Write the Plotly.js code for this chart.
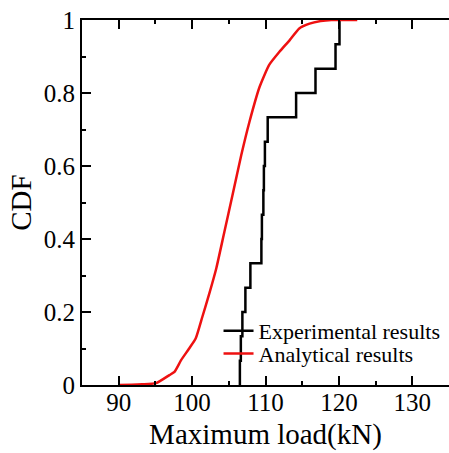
<!DOCTYPE html>
<html>
<head>
<meta charset="utf-8">
<script src="https://cdn.plot.ly/plotly-3.0.1.min.js"></script>
<style>
html,body{margin:0;padding:0;background:#fff;}
#chart{width:449px;height:453px;}
</style>
</head>
<body>
<div id="chart"></div>
<script>
// Experimental results: sorted maximum loads (kN), empirical CDF steps of 1/15
var expLoads = [106.51, 106.64, 106.85, 107.26, 107.94, 109.44, 109.51, 109.71, 109.78, 109.92, 110.30, 114.17, 116.81, 119.54, 120.08];
var expCdf = [1/15, 2/15, 3/15, 4/15, 5/15, 6/15, 7/15, 8/15, 9/15, 10/15, 11/15, 12/15, 13/15, 14/15, 1];

// Analytical results: CDF curve
var anaLoads = [90, 93.2, 95.1, 96.9, 97.6, 98.5, 99.6, 100.5, 101.4, 102.35, 103.3, 104.4, 105.5, 106.7, 107.8, 109.2, 110.5, 111.9, 113.3, 114.6, 116.0, 117.5, 119.0, 122.5];
var anaCdf   = [0, 0.002, 0.005, 0.027, 0.036, 0.068, 0.10, 0.128, 0.187, 0.251, 0.32, 0.42, 0.52, 0.63, 0.72, 0.817, 0.877, 0.913, 0.945, 0.977, 0.99, 0.997, 1.0, 1.0];

var xTicks = [90, 100, 110, 120, 130];
var yTicks = [0, 0.2, 0.4, 0.6, 0.8, 1];
var yTickText = ['0', '0.2', '0.4', '0.6', '0.8', '1'];

var serif = 'Liberation Serif, Times New Roman, serif';

var traces = [
  {
    x: [expLoads[0]].concat(expLoads),
    y: [0].concat(expCdf),
    mode: 'lines',
    line: {color: '#000000', width: 2.5, shape: 'hv'},
    name: 'Experimental results',
    legend: 'legend'
  },
  {
    x: anaLoads,
    y: anaCdf,
    mode: 'lines',
    line: {color: '#ee1111', width: 2.5, shape: 'spline', smoothing: 0.5},
    name: 'Analytical results',
    legend: 'legend2'
  }
];

var legendCommon = {
  xanchor: 'left', yanchor: 'middle',
  bgcolor: 'rgba(0,0,0,0)', borderwidth: 0,
  font: {family: serif, size: 22, color: '#000'},
  itemclick: false, itemdoubleclick: false
};

var layout = {
  width: 449, height: 453,
  margin: {l: 82, r: 0, t: 20, b: 68},
  paper_bgcolor: '#ffffff',
  plot_bgcolor: '#ffffff',
  showlegend: true,
  legend: Object.assign({x: 0.372, y: 0.148}, legendCommon),
  legend2: Object.assign({x: 0.372, y: 0.086}, legendCommon),
  xaxis: {
    range: [85, 135],
    tickvals: xTicks,
    ticks: 'inside', ticklen: 9, tickwidth: 2, tickcolor: '#000',
    minor: {ticks: 'inside', ticklen: 4, tickwidth: 2, tickcolor: '#000', dtick: 5, tick0: 85},
    showline: true, linecolor: '#000', linewidth: 2, mirror: 'ticks',
    showgrid: false, zeroline: false,
    ticklabelstandoff: -6,
    tickfont: {family: serif, size: 25, color: '#000'},
    title: {text: 'Maximum load(kN)', font: {family: serif, size: 29, color: '#000'}, standoff: 9}
  },
  yaxis: {
    range: [0, 1],
    tickvals: yTicks, ticktext: yTickText,
    ticks: 'inside', ticklen: 9, tickwidth: 2, tickcolor: '#000',
    minor: {ticks: 'inside', ticklen: 4, tickwidth: 2, tickcolor: '#000', dtick: 0.1, tick0: 0},
    showline: true, linecolor: '#000', linewidth: 2,
    showgrid: false, zeroline: false,
    tickfont: {family: serif, size: 25, color: '#000'},
    title: {text: 'CDF', font: {family: serif, size: 29, color: '#000'}, standoff: 4}
  }
};

Plotly.newPlot('chart', traces, layout, {displayModeBar: false, staticPlot: true});
</script>
</body>
</html>
